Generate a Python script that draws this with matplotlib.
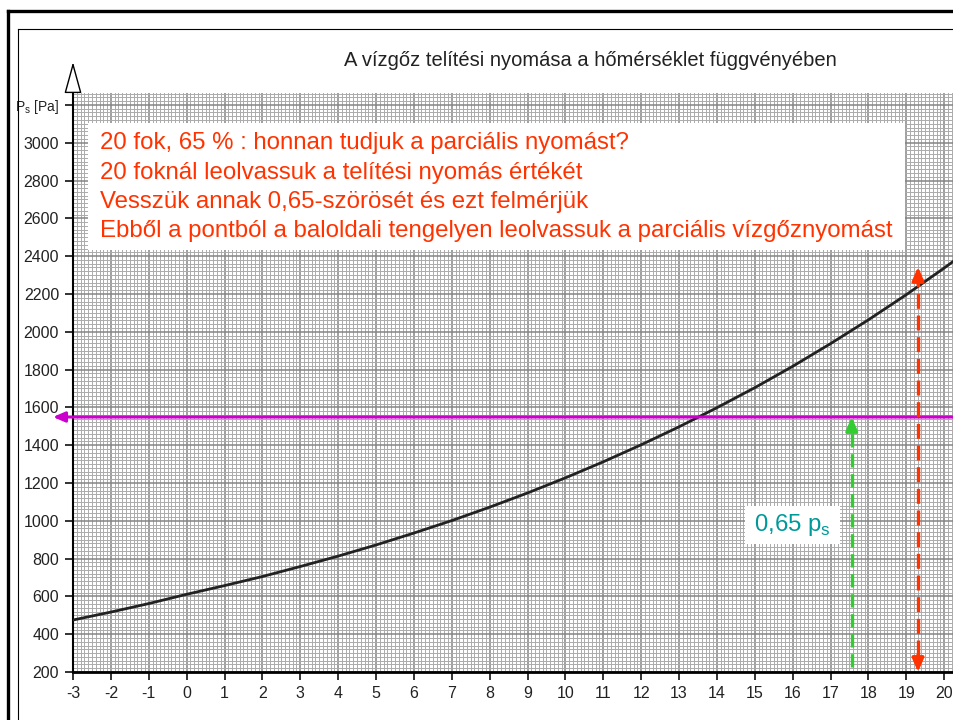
import numpy as np
import matplotlib
matplotlib.use('Agg')
import matplotlib.pyplot as plt
from matplotlib.ticker import MultipleLocator
from matplotlib.lines import Line2D
from matplotlib.patches import Rectangle

plt.rcParams['font.family'] = ['Liberation Sans', 'DejaVu Sans']

# saturation pressure (deg C -> Pa)
temps = [-3, -2, -1, 0, 1, 2, 3, 4, 5, 6, 7, 8, 9, 10,
         11, 12, 13, 14, 15, 16, 17, 18, 19, 20, 20.3]
ps = [475, 517, 562, 611, 657, 705, 758, 813, 872, 935, 1001, 1072, 1147, 1227,
      1312, 1402, 1497, 1598, 1704, 1817, 1937, 2063, 2196, 2337, 2381]

xticks = list(range(-3, 21))
yticks = list(range(200, 3001, 200)) + [3200]
ylabels = [str(v) for v in range(200, 3001, 200)] + [r'P$_\mathregular{s}$ [Pa]']

title = 'A vízgőz telítési nyomása a hőmérséklet függvényében'
note_lines = ['20 fok, 65 % : honnan tudjuk a parciális nyomást?',
              '20 foknál leolvassuk a telítési nyomás értékét',
              'Vesszük annak 0,65-szörösét és ezt felmérjük',
              'Ebből a pontból a baloldali tengelyen leolvassuk a parciális vízgőznyomást']
frac_label = r'0,65 p$_\mathregular{s}$'

t_read = 19.31        # where the saturation value is read
p_read_top = 2343
t_mark = 17.56        # where 0.65*ps is measured
p_partial = 1549

W, H = 954, 720
fig = plt.figure(figsize=(W / 100, H / 100), dpi=100)
fig.patch.set_facecolor('white')

# page frame
fig.add_artist(Line2D([8.5 / W, 8.5 / W], [0, 1 - 11 / H], color='black', lw=2.4, transform=fig.transFigure))
fig.add_artist(Line2D([8.5 / W, 1], [1 - 11 / H, 1 - 11 / H], color='black', lw=2.4, transform=fig.transFigure))
fig.add_artist(Line2D([17.5 / W, 17.5 / W], [0, 1 - 28.5 / H], color='black', lw=0.8, transform=fig.transFigure))
fig.add_artist(Line2D([17.5 / W, 1], [1 - 28.5 / H, 1 - 28.5 / H], color='black', lw=0.8, transform=fig.transFigure))

ax = fig.add_axes([73 / W, 48 / H, (W - 73) / W, 579 / H])
ax.set_xlim(-3, 20.26)
ax.set_ylim(200, 3263)

ax.xaxis.set_major_locator(MultipleLocator(1))
ax.xaxis.set_minor_locator(MultipleLocator(0.1))
ax.yaxis.set_major_locator(MultipleLocator(200))
ax.yaxis.set_minor_locator(MultipleLocator(20))
ax.grid(which='minor', color='#ababab', lw=0.7)
ax.grid(which='major', color='#858585', lw=1.1)
ax.set_axisbelow(True)

ax.set_xticks(xticks)
ax.set_xticklabels([str(v) for v in xticks])
ax.set_yticks(yticks)
ax.set_yticklabels(ylabels)
ax.tick_params(which='major', direction='out', length=6, width=1.3, color='#222222',
               labelsize=11.5, labelcolor='#222222', pad=4)
ax.tick_params(which='minor', length=0)
ax.get_yticklabels()[-1].set_fontsize(10)

for s in ['top', 'right']:
    ax.spines[s].set_visible(False)
ax.spines['left'].set_linestyle((0, (2, 1)))
ax.spines['left'].set_linewidth(1.5)
ax.spines['bottom'].set_linestyle((0, (2, 1)))
ax.spines['bottom'].set_linewidth(2)

# y axis arrow
ax.annotate('', xy=(-3, 3427), xytext=(-3, 3263), xycoords='data', annotation_clip=False,
            arrowprops=dict(arrowstyle='-|>,head_length=2.0,head_width=0.55', fc='white',
                            ec='black', lw=1.0, shrinkA=0, shrinkB=0))

ax.plot(temps, ps, color='#222222', lw=2.0, zorder=3)

# horizontal read-off line
ax.annotate('', xy=(-3.53, p_partial), xytext=(20.26, p_partial), annotation_clip=False,
            arrowprops=dict(arrowstyle='-|>,head_length=0.7,head_width=0.3', color='#cc00cc',
                            lw=2.2, shrinkA=0, shrinkB=0), zorder=4)

# green dashed arrow
ax.plot([t_mark, t_mark], [226, p_partial - 70], color='#33cc33', lw=2.4,
        dashes=(4, 2), zorder=4)
ax.annotate('', xy=(t_mark, p_partial), xytext=(t_mark, p_partial - 75),
            arrowprops=dict(arrowstyle='-|>,head_length=0.8,head_width=0.35', color='#33cc33',
                            lw=2.4, shrinkA=0, shrinkB=0), zorder=4)

# red dashed double arrow
ax.plot([t_read, t_read], [290, p_read_top - 80], color='#ff3300', lw=2.4,
        dashes=(4.5, 2), zorder=4)
ax.annotate('', xy=(t_read, 200), xytext=(t_read, 290), annotation_clip=False,
            arrowprops=dict(arrowstyle='-|>,head_length=0.8,head_width=0.35', color='#ff3300',
                            lw=2.4, shrinkA=0, shrinkB=0), zorder=4)
ax.annotate('', xy=(t_read, p_read_top), xytext=(t_read, p_read_top - 90),
            arrowprops=dict(arrowstyle='-|>,head_length=0.8,head_width=0.35', color='#ff3300',
                            lw=2.4, shrinkA=0, shrinkB=0), zorder=4)

# explanation box
ax.add_patch(Rectangle((15 / 881, (672 - 250) / 579), 817 / 881, 127 / 579,
                       transform=ax.transAxes, fc='white', ec='none', zorder=5))
for i, line in enumerate(note_lines):
    ypix = 143 + i * 29.5
    ax.text(27 / 881, (672 - ypix) / 579, line, transform=ax.transAxes, color='#ff3300',
            fontsize=17.3, va='center', ha='left', zorder=6)

ax.add_patch(Rectangle(((745 - 73) / 881, (672 - 544) / 579), 95 / 881, 38 / 579,
                       transform=ax.transAxes, fc='white', ec='none', zorder=5))
ax.text((792 - 73) / 881, (672 - 525) / 579, frac_label, transform=ax.transAxes,
        color='#009999', fontsize=17.3, va='center', ha='center', zorder=6)

fig.text(590 / W, 1 - 60 / H, title, ha='center', va='center', fontsize=14.5, color='#222222')

fig.savefig('out.png', dpi=100)
